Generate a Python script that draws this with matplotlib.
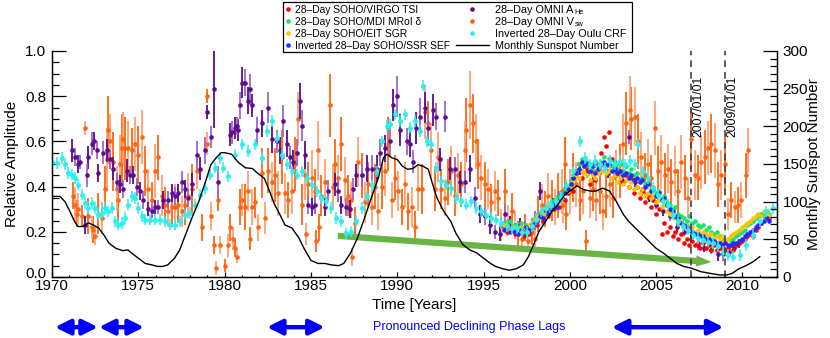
import numpy as np
import matplotlib
matplotlib.use("Agg")
import matplotlib.pyplot as plt
from matplotlib.lines import Line2D
from matplotlib.patches import Rectangle, FancyArrowPatch
from matplotlib.ticker import MultipleLocator, FormatStrFormatter
from matplotlib.transforms import ScaledTranslation

plt.rcParams['font.family'] = ['Liberation Sans', 'DejaVu Sans']

# ---------------- Monthly sunspot number (right axis) ----------------
ssn_year = [1970.0, 1970.46, 1970.75, 1971.04, 1971.3, 1971.5, 1971.8, 1972.1, 1972.4, 1972.7,
            1973.0, 1973.3, 1973.7, 1974.1, 1974.4, 1974.6, 1975.0, 1975.4, 1975.8, 1976.1,
            1976.4, 1976.7, 1977.1, 1977.4, 1977.7, 1978.1, 1978.5, 1978.9, 1979.2, 1979.5,
            1979.8, 1980.0, 1980.4, 1980.8, 1981.2, 1981.6, 1981.9, 1982.3, 1982.6, 1982.9,
            1983.2, 1983.5, 1983.9, 1984.3, 1984.6, 1985.0, 1985.4, 1985.8, 1986.2, 1986.6,
            1986.9, 1987.3, 1987.7, 1988.1, 1988.5, 1988.9, 1989.2, 1989.4, 1989.7, 1990.0,
            1990.3, 1990.6, 1990.9, 1991.2, 1991.5, 1991.8, 1992.0, 1992.3, 1992.7, 1993.1,
            1993.4, 1993.8, 1994.2, 1994.6, 1995.0, 1995.4, 1995.7, 1996.1, 1996.5, 1996.9,
            1997.3, 1997.6, 1997.9, 1998.2, 1998.6, 1998.9, 1999.3, 1999.7, 2000.0, 2000.4,
            2000.8, 2001.2, 2001.5, 2001.9, 2002.3, 2002.7, 2003.1, 2003.4, 2003.8, 2004.2,
            2004.6, 2005.0, 2005.4, 2005.8, 2006.2, 2006.6, 2007.0, 2007.6, 2008.2, 2008.7,
            2009.1, 2009.4, 2009.8, 2010.2, 2010.6, 2011.0]
ssn_val = [107, 107, 100, 87, 74, 67, 67, 72, 69, 65,
           56, 45, 38, 35, 36, 32, 25, 18, 16, 14,
           14, 16, 25, 36, 54, 78, 100, 127, 149, 158,
           165, 165, 163, 152, 145, 144, 138, 131, 114, 96,
           83, 69, 65, 52, 38, 22, 18, 18, 16, 15,
           18, 32, 52, 78, 105, 131, 158, 163, 158, 156,
           147, 143, 144, 149, 147, 143, 127, 105, 87, 74,
           58, 43, 36, 32, 25, 18, 14, 11, 9, 11,
           16, 27, 43, 60, 74, 85, 96, 109, 114, 121,
           116, 114, 114, 118, 114, 100, 83, 74, 65, 56,
           47, 38, 32, 25, 18, 14, 12, 7, 4.5, 2.7,
           2.7, 4.8, 11, 15, 20, 27]

# ---------------- Inverted 28-day Oulu CRF ----------------
crf_year = [1970.0, 1970.27, 1970.56, 1970.75, 1970.95, 1971.14, 1971.33, 1971.52, 1971.72, 1971.91,
            1972.10, 1972.30, 1972.49, 1972.68, 1972.88, 1973.07, 1973.26, 1973.46, 1973.65, 1973.84,
            1974.03, 1974.23, 1974.42, 1974.61, 1974.81, 1975.00, 1975.19, 1975.39, 1975.67, 1975.96,
            1976.25, 1976.54, 1976.83, 1977.12, 1977.41, 1977.70, 1977.99, 1978.28, 1978.57, 1978.86,
            1979.15, 1979.44, 1979.73, 1979.90, 1980.21, 1980.60, 1980.98, 1981.37, 1981.75, 1982.14,
            1982.43, 1982.72, 1983.01, 1983.30, 1983.59, 1983.88, 1984.17, 1984.46, 1984.75, 1985.04,
            1985.33, 1985.61, 1985.90, 1986.19, 1986.48, 1986.77, 1987.06, 1987.35, 1987.64, 1987.93,
            1988.22, 1988.51, 1988.80, 1989.09, 1989.38, 1989.57, 1989.86, 1990.15, 1990.44, 1990.73,
            1991.02, 1991.31, 1991.50, 1991.70, 1991.98, 1992.27, 1992.56, 1992.85, 1993.14, 1993.43,
            1993.72, 1994.01, 1994.30, 1994.59, 1994.88, 1995.17, 1995.46, 1995.75, 1996.04, 1996.33,
            1996.62, 1996.91, 1997.20, 1997.49, 1997.78, 1998.06, 1998.35, 1998.64, 1998.93, 1999.22,
            1999.51, 1999.80, 2000.19, 2000.57, 2000.86, 2001.15, 2001.44, 2001.73, 2002.02, 2002.31,
            2002.60, 2002.89, 2003.18, 2003.47, 2003.76, 2003.95, 2004.24, 2004.53, 2004.82, 2005.11,
            2005.40, 2005.69, 2005.98, 2006.27, 2006.56, 2006.85, 2007.14, 2007.42, 2007.71, 2008.00,
            2008.29, 2008.58, 2008.87, 2009.16, 2009.45, 2009.84, 2010.22, 2010.61, 2011.00, 2011.38,
            2011.77]
crf_val = [0.51, 0.505, 0.527, 0.498, 0.46, 0.453, 0.438, 0.409, 0.364, 0.327,
           0.305, 0.327, 0.305, 0.276, 0.283, 0.305, 0.29, 0.305, 0.246, 0.231,
           0.239, 0.261, 0.32, 0.357, 0.35, 0.305, 0.268, 0.253, 0.253, 0.253,
           0.253, 0.246, 0.231, 0.231, 0.246, 0.276, 0.283, 0.32, 0.364, 0.394,
           0.453, 0.483, 0.527, 0.483, 0.446, 0.542, 0.587, 0.557, 0.587, 0.527,
           0.646, 0.69, 0.616, 0.542, 0.498, 0.468, 0.453, 0.468, 0.438, 0.409,
           0.379, 0.35, 0.335, 0.305, 0.261, 0.246, 0.194, 0.201, 0.246, 0.305,
           0.357, 0.409, 0.468, 0.601, 0.668, 0.675, 0.72, 0.69, 0.72, 0.66,
           0.69, 0.646, 0.846, 0.601, 0.587, 0.483, 0.424, 0.409, 0.394, 0.35,
           0.335, 0.32, 0.335, 0.305, 0.29, 0.276, 0.261, 0.253, 0.239, 0.224,
           0.216, 0.216, 0.201, 0.201, 0.224, 0.253, 0.29, 0.305, 0.32, 0.335,
           0.35, 0.409, 0.468, 0.601, 0.527, 0.498, 0.513, 0.498, 0.483, 0.513,
           0.498, 0.513, 0.498, 0.513, 0.498, 0.587, 0.468, 0.438, 0.394, 0.364,
           0.335, 0.32, 0.276, 0.246, 0.224, 0.209, 0.187, 0.172, 0.164, 0.157,
           0.15, 0.135, 0.112, 0.098, 0.09, 0.098, 0.142, 0.187, 0.246, 0.29,
           0.305]
crf_err = 0.025

# ---------------- 28-day OMNI A_He ----------------
ahe_year = [1971.14, 1971.33, 1971.52, 1971.62, 1971.91, 1972.00, 1972.10, 1972.30, 1972.45, 1972.59,
            1972.68, 1972.97, 1973.17, 1973.36, 1973.55, 1973.74, 1973.94, 1974.13, 1974.32, 1974.52,
            1974.71, 1974.90, 1975.10, 1975.29, 1975.58, 1975.77, 1975.96, 1976.16, 1976.45, 1976.74,
            1976.93, 1977.12, 1977.32, 1977.51, 1977.70, 1977.90, 1978.09, 1978.38, 1978.57, 1978.86,
            1979.00, 1979.21, 1979.40, 1979.63, 1980.31, 1980.41, 1980.60, 1980.69, 1980.79, 1980.89,
            1980.98, 1981.18, 1981.37, 1981.47, 1981.56, 1981.85, 1982.14, 1982.53, 1982.72, 1983.01,
            1983.20, 1983.40, 1983.59, 1983.78, 1983.98, 1984.17, 1984.36, 1984.50, 1984.65, 1984.85,
            1985.04, 1985.23, 1985.81, 1986.00, 1986.39, 1986.58, 1986.77, 1987.06, 1987.26, 1987.45,
            1987.64, 1987.93, 1988.22, 1988.51, 1988.80, 1988.99, 1989.28, 1989.57, 1989.76, 1989.96,
            1990.15, 1990.54, 1990.73, 1990.92, 1991.11, 1991.31, 1991.60, 1991.79, 1992.08, 1992.27,
            1992.47, 1992.76, 1993.05, 1993.34, 1993.63, 1993.92, 1994.21, 1994.50, 1994.79, 1995.08,
            1995.37, 1995.66, 1995.94, 1996.23, 1996.53, 1996.82, 1997.11, 1997.40, 1997.69, 1997.98,
            1998.27, 1998.6, 1999.0, 1999.4, 1999.8, 2000.2, 2000.6, 2001.0, 2001.4, 2001.8,
            2002.2, 2002.6, 2003.0, 2003.4, 2003.8, 2004.2, 2004.6, 2005.0, 2005.4, 2005.8,
            2006.2, 2006.6, 2007.0, 2007.4, 2007.8, 2008.2, 2008.6, 2008.9, 2009.2, 2009.5,
            2009.8]
ahe_val = [0.56, 0.53, 0.50, 0.51, 0.23, 0.45, 0.53, 0.59, 0.60, 0.56,
           0.46, 0.55, 0.56, 0.52, 0.48, 0.42, 0.41, 0.39, 0.47, 0.45,
           0.45, 0.40, 0.38, 0.34, 0.30, 0.29, 0.31, 0.31, 0.34, 0.34,
           0.37, 0.36, 0.37, 0.42, 0.39, 0.35, 0.41, 0.54, 0.48, 0.56,
           0.73, 0.62, 0.83, 0.42, 0.63, 0.64, 0.66, 0.67, 0.65, 0.76,
           0.86, 0.86, 0.78, 0.83, 0.76, 0.65, 0.68, 0.75, 0.61, 0.60,
           0.56, 0.69, 0.59, 0.53, 0.51, 0.55, 0.78, 0.67, 0.54, 0.32,
           0.31, 0.32, 0.31, 0.38, 0.41, 0.38, 0.32, 0.31, 0.30, 0.39,
           0.45, 0.45, 0.48, 0.48, 0.48, 0.55, 0.57, 0.60, 0.76, 0.80,
           0.65, 0.60, 0.59, 0.51, 0.66, 0.71, 0.75, 0.66, 0.74, 0.71,
           0.52, 0.71, 0.48, 0.48, 0.42, 0.42, 0.48, 0.35, 0.28, 0.27,
           0.23, 0.20, 0.19, 0.28, 0.23, 0.21, 0.23, 0.22, 0.21, 0.25,
           0.38, 0.30, 0.33, 0.36, 0.40, 0.44, 0.47, 0.46, 0.44, 0.47,
           0.46, 0.45, 0.43, 0.62, 0.42, 0.38, 0.35, 0.32, 0.29, 0.27,
           0.22, 0.20, 0.17, 0.14, 0.13, 0.12, 0.10, 0.10, 0.11, 0.13,
           0.15]
ahe_err = [0.05, 0.04, 0.04, 0.03, 0.04, 0.05, 0.05, 0.05, 0.04, 0.04,
           0.04, 0.05, 0.05, 0.04, 0.05, 0.04, 0.04, 0.04, 0.05, 0.04,
           0.04, 0.04, 0.04, 0.04, 0.03, 0.03, 0.03, 0.03, 0.04, 0.04,
           0.04, 0.04, 0.04, 0.05, 0.04, 0.04, 0.05, 0.06, 0.05, 0.06,
           0.03, 0.05, 0.17, 0.07, 0.05, 0.05, 0.05, 0.04, 0.05, 0.06,
           0.07, 0.06, 0.06, 0.07, 0.05, 0.06, 0.06, 0.07, 0.06, 0.05,
           0.06, 0.07, 0.06, 0.05, 0.05, 0.06, 0.08, 0.07, 0.06, 0.04,
           0.04, 0.04, 0.04, 0.05, 0.05, 0.05, 0.04, 0.04, 0.04, 0.05,
           0.05, 0.05, 0.06, 0.06, 0.06, 0.06, 0.06, 0.07, 0.07, 0.09,
           0.07, 0.06, 0.06, 0.05, 0.07, 0.08, 0.07, 0.06, 0.07, 0.06,
           0.05, 0.07, 0.05, 0.05, 0.05, 0.05, 0.06, 0.05, 0.04, 0.04,
           0.04, 0.03, 0.03, 0.04, 0.04, 0.03, 0.03, 0.03, 0.03, 0.04,
           0.04, 0.02, 0.02, 0.02, 0.02, 0.02, 0.02, 0.02, 0.02, 0.02,
           0.02, 0.02, 0.02, 0.03, 0.02, 0.02, 0.02, 0.02, 0.02, 0.02,
           0.02, 0.02, 0.02, 0.02, 0.02, 0.02, 0.03, 0.03, 0.02, 0.02,
           0.02]

# ---------------- 28-day OMNI V_sw ----------------
vsw_year = [1971.24, 1971.33, 1971.43, 1971.52, 1971.72, 1971.91, 1972.10, 1972.30, 1972.39, 1972.49,
            1972.68, 1972.88, 1973.07, 1973.17, 1973.26, 1973.36, 1973.55, 1973.74, 1973.84, 1973.94,
            1974.03, 1974.13, 1974.23, 1974.42, 1974.61, 1974.81, 1975.00, 1975.19, 1975.39, 1975.58,
            1975.77, 1975.96, 1976.16, 1976.35, 1976.54, 1976.74, 1976.93, 1977.12, 1977.32, 1977.51,
            1977.70, 1977.90, 1978.09, 1978.38, 1978.67, 1978.96, 1979.00, 1979.21, 1979.40, 1979.50,
            1979.59, 1979.73, 1980.02, 1980.21, 1980.31, 1980.50, 1980.60, 1980.69, 1980.89, 1980.98,
            1981.18, 1981.37, 1981.47, 1981.56, 1981.75, 1981.95, 1982.14, 1982.33, 1982.53, 1982.72,
            1982.91, 1983.11, 1983.30, 1983.49, 1983.69, 1983.88, 1984.07, 1984.27, 1984.46, 1984.65,
            1984.85, 1985.04, 1985.23, 1985.42, 1985.61, 1985.81, 1986.10, 1986.29, 1986.39, 1986.58,
            1986.77, 1986.97, 1987.16, 1987.35, 1987.55, 1987.74, 1987.93, 1988.12, 1988.32, 1988.51,
            1988.70, 1988.90, 1989.09, 1989.28, 1989.48, 1984.70, 1985.28, 1987.40, 1985.47, 1989.67,
            1989.86, 1990.05, 1990.25, 1990.44, 1990.63, 1990.83, 1991.02, 1991.21, 1991.41, 1991.60,
            1991.79, 1991.98, 1992.18, 1992.37, 1992.56, 1992.76, 1992.95, 1993.14, 1993.34, 1993.53,
            1993.72, 1993.92, 1994.01, 1994.21, 1994.40, 1994.55, 1994.69, 1994.88, 1995.08, 1995.27,
            1995.46, 1995.66, 1995.85, 1996.04, 1996.24, 1996.43, 1996.62, 1996.82, 1997.01, 1997.20,
            1997.40, 1997.59, 1997.78, 1997.98, 1998.17, 1998.36, 1998.56, 1998.75, 1998.94, 1999.14,
            1999.33, 1999.52, 1999.72, 1999.61, 1999.80, 1999.99, 2000.19, 2000.38, 2000.57, 2000.77,
            2000.96, 2001.15, 2001.35, 2001.54, 2001.73, 2001.92, 2002.12, 2002.31, 2002.50, 2002.70,
            2002.89, 2003.08, 2003.28, 2003.47, 2003.57, 2003.76, 2003.95, 2004.14, 2004.34, 2004.53,
            2004.72, 2004.92, 2005.11, 2005.30, 2005.49, 2005.69, 2005.88, 2006.07, 2006.27, 2006.46,
            2006.65, 2006.85, 2007.04, 2007.23, 2007.42, 2007.62, 2007.81, 2008.00, 2008.19, 2008.39,
            2008.58, 2008.77, 2008.97, 2009.16, 2009.35, 2009.55, 2009.74, 2009.93, 2010.22, 2010.30]
vsw_val = [0.36, 0.32, 0.28, 0.30, 0.27, 0.66, 0.27, 0.22, 0.21, 0.18,
           0.28, 0.26, 0.39, 0.52, 0.65, 0.60, 0.51, 0.39, 0.34, 0.50,
           0.57, 0.61, 0.57, 0.57, 0.56, 0.59, 0.54, 0.62, 0.47, 0.39,
           0.34, 0.47, 0.53, 0.36, 0.32, 0.29, 0.31, 0.31, 0.32, 0.29,
           0.32, 0.36, 0.39, 0.47, 0.22, 0.59, 0.80, 0.27, 0.14, 0.04,
           0.34, 0.14, 0.05, 0.14, 0.22, 0.17, 0.13, 0.09, 0.31, 0.34,
           0.31, 0.38, 0.17, 0.31, 0.33, 0.22, 0.46, 0.26, 0.47, 0.42,
           0.45, 0.37, 0.53, 0.37, 0.34, 0.38, 0.50, 0.70, 0.32, 0.45,
           0.41, 0.44, 0.38, 0.56, 0.36, 0.42, 0.76, 0.40, 0.50, 0.44,
           0.59, 0.43, 0.36, 0.34, 0.24, 0.51, 0.45, 0.33, 0.41, 0.31,
           0.40, 0.29, 0.40, 0.47, 0.59, 0.19, 0.16, 0.09, 0.22, 0.34,
           0.44, 0.38, 0.31, 0.41, 0.29, 0.31, 0.22, 0.39, 0.39, 0.73,
           0.68, 0.56, 0.39, 0.53, 0.39, 0.35, 0.42, 0.47, 0.36, 0.45,
           0.41, 0.56, 0.65, 0.76, 0.68, 0.60, 0.50, 0.44, 0.41, 0.39,
           0.33, 0.38, 0.35, 0.23, 0.38, 0.25, 0.29, 0.23, 0.19, 0.17,
           0.22, 0.16, 0.20, 0.17, 0.28, 0.32, 0.30, 0.36, 0.34, 0.31,
           0.36, 0.38, 0.50, 0.32, 0.28, 0.38, 0.44, 0.41, 0.34, 0.38,
           0.16, 0.35, 0.39, 0.34, 0.38, 0.29, 0.36, 0.41, 0.35, 0.45,
           0.47, 0.59, 0.68, 0.74, 0.70, 0.71, 0.60, 0.53, 0.45, 0.50,
           0.44, 0.66, 0.47, 0.51, 0.45, 0.48, 0.42, 0.47, 0.38, 0.51,
           0.44, 0.35, 0.61, 0.45, 0.44, 0.51, 0.53, 0.57, 0.59, 0.56,
           0.41, 0.45, 0.50, 0.28, 0.34, 0.31, 0.32, 0.34, 0.45, 0.56]
vsw_err = [0.06, 0.08, 0.06, 0.07, 0.05, 0.03, 0.08, 0.05, 0.06, 0.04,
           0.09, 0.07, 0.10, 0.14, 0.15, 0.12, 0.13, 0.10, 0.09, 0.13,
           0.15, 0.12, 0.14, 0.12, 0.10, 0.12, 0.13, 0.12, 0.11, 0.09,
           0.08, 0.12, 0.10, 0.09, 0.08, 0.07, 0.09, 0.10, 0.08, 0.07,
           0.09, 0.10, 0.11, 0.08, 0.06, 0.05, 0.03, 0.06, 0.04, 0.03,
           0.05, 0.04, 0.03, 0.05, 0.06, 0.05, 0.04, 0.03, 0.08, 0.07,
           0.10, 0.09, 0.05, 0.08, 0.07, 0.06, 0.11, 0.07, 0.10, 0.09,
           0.12, 0.10, 0.12, 0.09, 0.08, 0.10, 0.12, 0.12, 0.09, 0.11,
           0.10, 0.12, 0.10, 0.13, 0.09, 0.10, 0.14, 0.10, 0.11, 0.10,
           0.12, 0.10, 0.09, 0.08, 0.07, 0.11, 0.10, 0.09, 0.10, 0.08,
           0.10, 0.08, 0.10, 0.11, 0.12, 0.05, 0.05, 0.04, 0.06, 0.08,
           0.10, 0.09, 0.08, 0.10, 0.08, 0.09, 0.07, 0.10, 0.11, 0.12,
           0.10, 0.12, 0.10, 0.11, 0.09, 0.08, 0.10, 0.11, 0.09, 0.10,
           0.10, 0.13, 0.14, 0.15, 0.13, 0.12, 0.11, 0.10, 0.10, 0.09,
           0.08, 0.09, 0.08, 0.07, 0.10, 0.07, 0.08, 0.06, 0.06, 0.05,
           0.06, 0.05, 0.06, 0.06, 0.08, 0.09, 0.08, 0.10, 0.09, 0.08,
           0.10, 0.10, 0.12, 0.08, 0.07, 0.10, 0.11, 0.10, 0.09, 0.10,
           0.05, 0.09, 0.10, 0.09, 0.10, 0.08, 0.10, 0.10, 0.09, 0.11,
           0.12, 0.13, 0.14, 0.15, 0.14, 0.13, 0.12, 0.11, 0.10, 0.11,
           0.10, 0.12, 0.11, 0.12, 0.10, 0.11, 0.10, 0.11, 0.10, 0.12,
           0.10, 0.09, 0.13, 0.11, 0.10, 0.12, 0.12, 0.12, 0.13, 0.12,
           0.10, 0.11, 0.12, 0.07, 0.08, 0.07, 0.08, 0.08, 0.10, 0.10]

# ---------------- SOHO 28-day series (start year, fixed cadence in years) ----------------
soho_start = 1996.2
soho_step = 0.16
tsi_val = [0.22, 0.20, 0.23, 0.21, 0.19, 0.22, 0.20, 0.18, 0.21, 0.19, 0.22, 0.24,
           0.23, 0.27, 0.25, 0.29, 0.27, 0.31, 0.30, 0.33, 0.31, 0.35, 0.34, 0.37,
           0.40, 0.38, 0.45, 0.50, 0.44, 0.52, 0.48, 0.41, 0.46, 0.43, 0.50, 0.55,
           0.62, 0.58, 0.64, 0.52, 0.49, 0.46, 0.50, 0.42, 0.45, 0.40, 0.44, 0.37,
           0.40, 0.35, 0.38, 0.33, 0.36, 0.31, 0.34, 0.28, 0.30, 0.19, 0.24, 0.20,
           0.22, 0.18, 0.20, 0.17, 0.19, 0.15, 0.17, 0.14, 0.16, 0.14, 0.15, 0.13,
           0.15, 0.13, 0.14, 0.12, 0.14, 0.12, 0.13, 0.14, 0.12, 0.13, 0.14, 0.12,
           0.14, 0.15, 0.16, 0.17, 0.18, 0.19, 0.18, 0.21, 0.22, 0.24, 0.27, 0.28, 0.26]
mdi_val = [0.24, 0.23, 0.25, 0.22, 0.23, 0.22, 0.24, 0.21, 0.23, 0.22, 0.24, 0.26,
           0.26, 0.28, 0.29, 0.31, 0.30, 0.33, 0.34, 0.33, 0.36, 0.37, 0.39, 0.40,
           0.43, 0.45, 0.47, 0.50, 0.52, 0.49, 0.51, 0.48, 0.50, 0.47, 0.49, 0.51,
           0.53, 0.50, 0.52, 0.49, 0.51, 0.48, 0.50, 0.47, 0.49, 0.46, 0.48, 0.45,
           0.46, 0.43, 0.44, 0.41, 0.42, 0.39, 0.40, 0.37, 0.38, 0.35, 0.36, 0.33,
           0.32, 0.30, 0.31, 0.28, 0.27, 0.26, 0.25, 0.27, 0.24, 0.25, 0.23, 0.22,
           0.23, 0.21, 0.22, 0.20, 0.19, 0.20, 0.18, 0.17, 0.16, 0.17, 0.16, 0.17,
           0.18, 0.19, 0.20, 0.21, 0.23, 0.24, 0.25, 0.26, 0.27, 0.28, 0.27, 0.29, 0.28]
sgr_val = [0.23, 0.22, 0.21, 0.22, 0.21, 0.20, 0.22, 0.21, 0.22, 0.23, 0.24, 0.25,
           0.27, 0.26, 0.28, 0.30, 0.29, 0.31, 0.32, 0.34, 0.33, 0.35, 0.37, 0.38,
           0.40, 0.43, 0.45, 0.44, 0.47, 0.46, 0.45, 0.43, 0.45, 0.44, 0.46, 0.47,
           0.49, 0.46, 0.47, 0.44, 0.45, 0.42, 0.44, 0.41, 0.43, 0.40, 0.42, 0.39,
           0.40, 0.37, 0.39, 0.36, 0.37, 0.35, 0.36, 0.33, 0.34, 0.31, 0.32, 0.29,
           0.28, 0.27, 0.26, 0.24, 0.25, 0.22, 0.23, 0.21, 0.22, 0.20, 0.21, 0.19,
           0.20, 0.19, 0.18, 0.19, 0.17, 0.18, 0.17, 0.18, 0.16, 0.17, 0.18, 0.19,
           0.20, 0.21, 0.22, 0.23, 0.24, 0.25, 0.26, 0.27, 0.28, 0.27, 0.29, 0.28, 0.27]
sef_val = [0.21, 0.22, 0.20, 0.21, 0.20, 0.19, 0.21, 0.20, 0.22, 0.21, 0.23, 0.24,
           0.25, 0.27, 0.26, 0.29, 0.28, 0.30, 0.32, 0.31, 0.34, 0.35, 0.37, 0.39,
           0.41, 0.44, 0.46, 0.48, 0.51, 0.49, 0.50, 0.47, 0.49, 0.46, 0.48, 0.50,
           0.51, 0.49, 0.50, 0.47, 0.48, 0.46, 0.47, 0.45, 0.46, 0.44, 0.45, 0.43,
           0.44, 0.42, 0.43, 0.40, 0.41, 0.38, 0.39, 0.36, 0.37, 0.34, 0.35, 0.32,
           0.30, 0.29, 0.27, 0.26, 0.24, 0.23, 0.22, 0.21, 0.20, 0.19, 0.19, 0.18,
           0.18, 0.17, 0.17, 0.16, 0.16, 0.15, 0.15, 0.14, 0.15, 0.14, 0.14, 0.15,
           0.15, 0.16, 0.17, 0.18, 0.19, 0.20, 0.21, 0.22, 0.23, 0.24, 0.25, 0.26, 0.25]

# ---------------- annotations ----------------
marker_dates = [2007.0, 2009.0]
marker_labels = ['2007/01/01', '2009/01/01']
trend_start = (1986.56, 0.182)
trend_end = (2008.2, 0.066)
lag_spans = [(1970.17, 1972.66), (1972.72, 1975.33), (1982.45, 1985.8), (2002.43, 2008.9)]
lag_text = 'Pronounced Declining Phase Lags'

# ---------------- colours ----------------
C_TSI = '#ff0000'
C_MDI = '#14e46a'
C_SGR = '#ffc400'
C_SEF = '#2626ff'
C_AHE = '#5c0c8e'
C_AHE_L = '#a064cc'
C_VSW = '#ff6410'
C_VSW_L = '#ffa070'
C_CRF = '#2af0f0'

W, H = 830, 338
fig = plt.figure(figsize=(W / 100, H / 100), dpi=100)
ax = fig.add_axes([52 / W, 1 - 277 / H, 725 / W, 226 / H])
ax2 = ax.twinx()

MS = 3.3

# orange V_sw
vy = np.array(vsw_year); vv = np.array(vsw_val); ve = np.array(vsw_err)
idx = np.arange(len(vy))
for sel, col in ((idx % 2 == 0, C_VSW), (idx % 2 == 1, C_VSW_L)):
    ax.vlines(vy[sel], vv[sel] - ve[sel], vv[sel] + ve[sel], colors=col, lw=1.3,
              zorder=2, clip_on=False)
ax.plot(vy, vv, 'o', color=C_VSW, ms=MS, mec='none', zorder=2.5, clip_on=False)

# purple A_He
ay = np.array(ahe_year); av = np.array(ahe_val); ae = np.array(ahe_err)
idx = np.arange(len(ay))
for sel, col in ((idx % 2 == 0, C_AHE), (idx % 2 == 1, C_AHE_L)):
    ax.vlines(ay[sel], av[sel] - ae[sel], av[sel] + ae[sel], colors=col, lw=1.3,
              zorder=3, clip_on=False)
ax.plot(ay, av, 'o', color=C_AHE, ms=MS, mec='none', zorder=3.5, clip_on=False)

# green trend arrow
arr = FancyArrowPatch(trend_start, trend_end, transform=ax.transData,
                      arrowstyle='simple,head_length=11,head_width=8,tail_width=4.5',
                      mutation_scale=1, color='#6ab445', lw=0, shrinkA=0, shrinkB=0,
                      zorder=4)
ax.add_patch(arr)

# SOHO series
for vals, col in ((tsi_val, C_TSI), (mdi_val, C_MDI), (sgr_val, C_SGR), (sef_val, C_SEF)):
    yrs = soho_start + soho_step * np.arange(len(vals))
    ax.plot(yrs, vals, 'o', color=col, ms=MS, mec='none', zorder=5)

# cyan CRF
ax.errorbar(crf_year, crf_val, yerr=crf_err, fmt='o', color=C_CRF, ms=3.6, mec='none',
            elinewidth=1.1, capsize=0, zorder=6)

# sunspot number
ax2.plot(ssn_year, ssn_val, color='black', lw=1.0, zorder=7)

# dashed date markers
for d, lab in zip(marker_dates, marker_labels):
    ax.axvline(d, color='#404040', lw=1.2, ls=(0, (4, 3)), zorder=8)
    ax.text(d + 0.08, 0.62, lab, rotation=90, ha='left', va='bottom', fontsize=8.8, zorder=9)

# axes styling
ax.set_xlim(1970, 2012)
ax.set_ylim(0, 1.0)
ax2.set_ylim(0, 300)
ax.spines['top'].set_visible(False)
ax2.spines['top'].set_visible(False)
for a in (ax, ax2):
    for s in a.spines.values():
        s.set_linewidth(0.9)

ax.xaxis.set_major_locator(MultipleLocator(5))
ax.xaxis.set_minor_locator(MultipleLocator(1))
ax.yaxis.set_major_locator(MultipleLocator(0.2))
ax.yaxis.set_minor_locator(MultipleLocator(0.05))
ax.yaxis.set_major_formatter(FormatStrFormatter('%.1f'))
ax2.yaxis.set_major_locator(MultipleLocator(50))
ax2.yaxis.set_minor_locator(MultipleLocator(10))

ax.tick_params(axis='x', which='major', direction='in', length=3.4, width=0.9, labelsize=11, pad=1.5)
ax.tick_params(axis='x', which='minor', direction='in', length=1.8, width=0.9)
ax.tick_params(axis='y', which='major', direction='in', length=10, width=0.9, labelsize=11, pad=4)
ax.tick_params(axis='y', which='minor', direction='in', length=5, width=0.9)
ax2.tick_params(axis='y', which='major', direction='in', length=10, width=0.9, labelsize=11, pad=4)
ax2.tick_params(axis='y', which='minor', direction='in', length=5, width=0.9)

ax.set_xlabel('Time [Years]', fontsize=11)
ax.xaxis.set_label_coords(0.5, -0.095)
ax.set_ylabel('Relative Amplitude', fontsize=11)
ax.yaxis.set_label_coords(-0.045, 0.5)
ax2.set_ylabel('Monthly Sunspot Number', fontsize=11)
ax2.yaxis.set_label_coords(1.042, 0.5)

# lag arrows and caption below the axis
for x0, x1 in lag_spans:
    ax.annotate('', xy=(x1, -0.222), xytext=(x0, -0.222), xycoords='data',
                annotation_clip=False,
                arrowprops=dict(arrowstyle='<|-|>,head_length=0.9,head_width=0.45',
                                mutation_scale=10, color='#0000ff', lw=3.2,
                                shrinkA=0, shrinkB=0))
ax.text(1994.2, -0.222, lag_text, color='#0000ff', fontsize=9, ha='center', va='center',
        clip_on=False)

# legend (drawn by hand inside a framed box above the plot)
box = Rectangle((283 / W, 1 - 52 / H), 349 / W, 50 / H, transform=fig.transFigure,
                facecolor='white', edgecolor='black', lw=0.9, zorder=20)
fig.add_artist(box)
left_labels = ['28\u2013Day SOHO/VIRGO TSI', '28\u2013Day SOHO/MDI MRoI \u03b4',
               '28\u2013Day SOHO/EIT SGR', 'Inverted 28\u2013Day SOHO/SSR SEF']
left_colors = [C_TSI, C_MDI, C_SGR, C_SEF]
right_labels = ['28\u2013Day OMNI A', '28\u2013Day OMNI V',
                'Inverted 28\u2013Day Oulu CRF', 'Monthly Sunspot Number']
right_subs = ['He', 'sw', '', '']
right_colors = [C_AHE, C_VSW, C_CRF, None]
sub_pending = []
for i in range(4):
    yc = 1 - (9 + 12 * i) / H
    yb = 1 - (13 + 12 * i) / H
    fig.add_artist(Line2D([288 / W], [yc], transform=fig.transFigure, ls='none', marker='o',
                          ms=MS, mec='none', color=left_colors[i], zorder=21))
    fig.text(295 / W, yb, left_labels[i], fontsize=7.4, va='baseline', ha='left', zorder=21)
    if right_colors[i] is None:
        fig.add_artist(Line2D([456 / W, 489 / W], [yc, yc], transform=fig.transFigure,
                              color='black', lw=1.0, zorder=21))
    else:
        fig.add_artist(Line2D([472 / W], [yc], transform=fig.transFigure, ls='none',
                              marker='o', ms=MS, mec='none', color=right_colors[i], zorder=21))
    t = fig.text(495 / W, yb, right_labels[i], fontsize=7.8, va='baseline', ha='left', zorder=21)
    if right_subs[i]:
        sub_pending.append((t, right_subs[i], yb))

fig.canvas.draw()
renderer = fig.canvas.get_renderer()
for t, sub, yb in sub_pending:
    bb = t.get_window_extent(renderer)
    fig.text(bb.x1 / fig.bbox.width + 1 / W, yb - 1.5 / H, sub, fontsize=5.2,
             va='baseline', ha='left', zorder=21)

# nudge the bottom "0.0" label up so it clears the "1970" label, as in the reference
for tk in ax.yaxis.get_major_ticks():
    if tk.label1.get_text() == '0.0':
        tk.label1.set_transform(tk.label1.get_transform() +
                                ScaledTranslation(0, 0.045, fig.dpi_scale_trans))

fig.savefig('out.png', dpi=100)
